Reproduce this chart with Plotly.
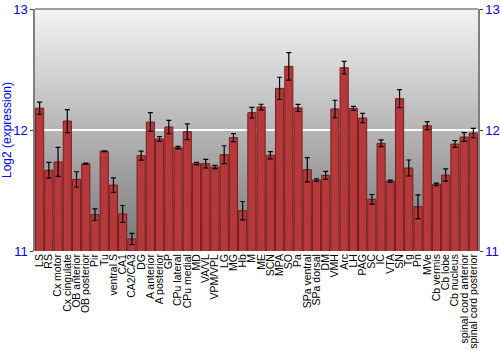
import plotly.graph_objects as go

categories = ["LS", "RS", "Cx motor", "Cx cingulate", "OB anterior", "OB posterior", "Pir", "Tu",
              "ventral S", "CA1", "CA2/CA3", "DG", "A anterior", "A posterior", "GP", "CPu lateral",
              "CPu medial", "MD", "VA/VL", "VPM/VPL", "LG", "MG", "Hb", "M", "ME", "SCN", "MPA", "SO",
              "Pa", "SPa ventral", "SPa dorsal", "DM", "VMH", "Arc", "LH", "PAG", "SC", "IC", "VTA",
              "SN", "Tg", "Pn", "MVe", "Cb vermis", "Cb lobe", "Cb nucleus", "spinal cord anterior",
              "spinal cord posterior"]
values = [12.18, 11.667, 11.736, 12.074, 11.592, 11.722, 11.30, 11.824,
          11.545, 11.306, 11.099, 11.788, 12.066, 11.926, 12.025, 11.854,
          11.986, 11.722, 11.722, 11.694, 11.796, 11.937, 11.333, 12.143, 12.19, 11.791, 12.344, 12.526,
          12.182, 11.672, 11.587, 11.625, 12.174, 12.515, 12.179, 12.099, 11.427, 11.89, 11.578,
          12.259, 11.686, 11.366, 12.036, 11.551, 11.628, 11.884, 11.942,
          11.975]
errors = [0.05, 0.065, 0.12, 0.095, 0.063, 0.005, 0.048, 0.003,
          0.06, 0.07, 0.047, 0.037, 0.077, 0.02, 0.055, 0.01,
          0.065, 0.01, 0.036, 0.014, 0.074, 0.033, 0.076, 0.044, 0.023, 0.03, 0.092, 0.114,
          0.029, 0.10, 0.01, 0.033, 0.072, 0.052, 0.017, 0.039, 0.04, 0.028, 0.008,
          0.074, 0.066, 0.098, 0.033, 0.01, 0.05, 0.028, 0.036,
          0.039]
y_ticks = [11, 12, 13]
y_range = [11, 13]

BLUE = "#0000ff"
FONT = "Liberation Sans, Arial, sans-serif"

fig = go.Figure()
fig.add_trace(go.Bar(
    x=categories, y=values,
    marker=dict(color="#b5393b", line=dict(color="#7a1c1e", width=1)),
    error_y=dict(type="data", array=errors, visible=True, color="#000000", thickness=1.2, width=2.5),
    showlegend=False,
))
# invisible trace for right axis
fig.add_trace(go.Scatter(x=[categories[0]], y=[values[0]], yaxis="y2", mode="markers",
                         marker=dict(opacity=0, size=1), showlegend=False, hoverinfo="skip"))

# gradient background bands
N = 60
shapes = []
for i in range(N):
    t = i / (N - 1)  # 0 bottom -> 1 top
    c = int(120 + (243 - 120) * t)
    shapes.append(dict(type="rect", xref="paper", yref="paper", x0=0, x1=1,
                       y0=i / N, y1=min(1, (i + 1.6) / N), fillcolor=f"rgb({c},{c},{c})",
                       line=dict(width=0), layer="below"))
shapes.append(dict(type="line", xref="paper", yref="paper", x0=0, x1=1, y0=1, y1=1,
                   line=dict(color="#808080", width=1.5), layer="above"))

fig.update_layout(
    width=500, height=350,
    margin=dict(l=35, r=22, t=9, b=99),
    paper_bgcolor="white", plot_bgcolor="rgba(0,0,0,0)",
    bargap=0.12,
    font=dict(family=FONT, size=10.5, color="black"),
    shapes=shapes,
    xaxis=dict(tickmode="array", tickvals=categories, ticktext=categories,
               range=[-0.5, len(categories) - 0.5],
               tickangle=-90, tickfont=dict(size=10.5, family=FONT, color="black"),
               showgrid=False, ticks="", showline=False, automargin=False),
    yaxis=dict(range=y_range, tickvals=y_ticks, ticks="outside", ticklen=3, tickcolor="#404040",
               tickfont=dict(color=BLUE, size=13, family=FONT),
               title=dict(text="Log2 (expression)", font=dict(color=BLUE, size=12, family=FONT), standoff=4),
               showline=True, linecolor="#808080", linewidth=1.5,
               showgrid=True, gridcolor="white", gridwidth=1.5, zeroline=False, automargin=False),
    yaxis2=dict(range=y_range, tickvals=y_ticks, overlaying="y", side="right", ticks="outside",
                ticklen=3, tickcolor="#404040",
                tickfont=dict(color=BLUE, size=13, family=FONT),
                showline=True, linecolor="#808080", linewidth=1.5, showgrid=False, zeroline=False,
                automargin=False),
)

fig.write_html("out.html")
